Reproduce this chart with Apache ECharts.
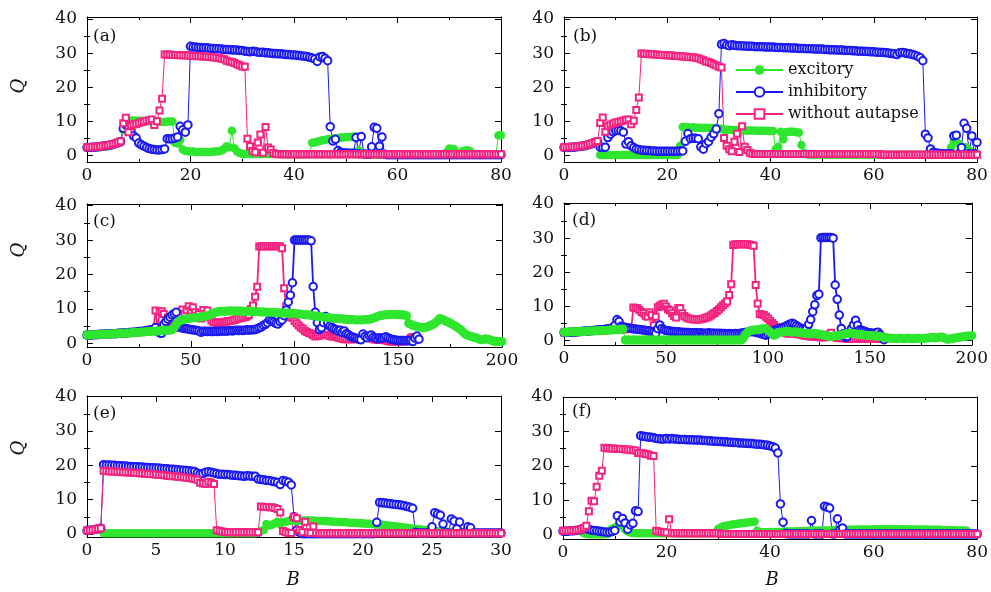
<!DOCTYPE html>
<html>
<head>
<meta charset="utf-8">
<script src="https://cdn.jsdelivr.net/npm/echarts@6.0.0/dist/echarts.min.js"></script>
<style>html,body{margin:0;padding:0;background:#fff}#c{width:991px;height:592px}</style>
</head>
<body>
<div id="c"></div>
<script>
// ---------- DATA (segments: [startB, [Q values at panel step]]) ----------
const seriesNames = ['excitory', 'inhibitory', 'without autapse'];
const panelLabels = ['(a)', '(b)', '(c)', '(d)', '(e)', '(f)'];
const yTickValues = [0, 10, 20, 30, 40];
const yMinorValues = [5, 15, 25, 35];

// panel (a), step 0.5
const aGreen = [
  [0, [2.3,2.3,2.3,2.4,2.4,2.5,2.6,2.7,2.8,3.0,3.2,3.4,3.7,4.0,
       7.5,9.5,10.3,10.3,10.3,10.2,10.2,10.2,10.1,10.1,
       10.1,10.0,10.0,10.0,9.9,9.9,9.9,10.0,10.0,10.0,
       3.8,3.6,4.6,1.8,1.4,1.3,1.2,1.2,1.1,1.1,
       1.1,1.1,1.1,1.1,1.1,1.2,1.2,1.3,1.5,2.0,
       2.8,2.5,7.3,2.2,1.2,0.8,0.6]],
  [30.5, [0.5,0.5,0.5,0.5,0.5,0.5,0.5,0.5,0.5,0.5,
          0.5,0.5,0.5,0.5,0.5,0.5,0.4,0.4,0.4,0.4,
          0.4,0.4,0.4,0.4,0.4,0.4]],
  [43.5, [3.8,3.9,4.1,4.3,4.5,4.6,4.8,4.9,5.0,5.1,5.2,5.3,5.3,5.4,5.5,5.5,5.6,5.6,1.5,0.5]],
  [53.5, [0.3,0.3,0.3,0.3,0.3,0.3,0.3,0.3,0.3,0.3,
          0.3,0.3,0.3,0.3,0.3,0.3,0.3,0.3,0.3,0.3,
          0.3,0.3,0.3,0.3,0.3,0.3,0.3,0.3,0.3,0.3,
          0.3,0.3]],
  [69.5, [1.0,2.1,2.0,1.8,0.8,0.6,1.2,1.5,1.6,1.4,0.6,0.3,0.3,0.3,0.3,0.3,0.3,0.3,0.3,0.3,5.9,6.0]]
];
const aBlue = [
  [0, [2.4,2.4,2.5,2.5,2.6,2.7,2.8,2.9,3.0,3.1,3.3,3.5,3.8,4.1,
       8.0,9.0,8.6,7.6,5.8,5.2,3.7,3.2,2.8,2.4,
       2.1,1.9,1.8,1.7,1.7,1.8,2.0,5.0,4.9,5.0,
       5.2,5.5,8.6,7.6,6.9,9.0]],
  [20, [32.0,31.8,31.8,31.7,31.7,31.6,31.6,31.5,31.4,31.4,
        31.3,31.3,31.2,31.1,31.1,31.0,31.0,30.9,30.9,30.8,
        30.8,30.6,30.5,30.4,30.6,30.5,30.3,30.2,30.3,30.1,
        30.1,30.0,29.9,29.9,29.8,29.8,29.7,29.6,29.6,29.5,
        29.5,29.4,29.3,29.2,29.1,29.0,28.8,28.6,28.3,27.6,
        28.9,29.0,28.5,27.8]],
  [47, [8.5,4.3,4.8,1.5,1.0,0.8,0.8,0.7,0.7,0.7,5.3,0.6,5.6,0.5,0.4,0.4,2.6,8.3,8.0,2.8,5.5,0.4]],
  [58, [0.3,0.3,0.3,0.3,0.3,0.3,0.3,0.3,0.3,0.3,
        0.3,0.3,0.3,0.3,0.3,0.3,0.3,0.3,0.3,0.3,
        0.3,0.3,0.3,0.3,0.3,0.3,0.3,0.3,0.3,0.3,
        0.3,0.3,0.3,0.3,0.3,0.3,0.3,0.3,0.3,0.3,
        0.3,0.3,0.3,0.3,0.3]]
];
const aPink = [
  [0, [2.5,2.5,2.5,2.6,2.6,2.7,2.8,2.9,3.0,3.2,3.4,3.6,3.9,4.2,
       9.5,11.1,6.9,8.7,9.1,9.3,9.6,9.8,10.0,10.2,10.4,10.6,9.0,10.1,13.2,16.7]],
  [15, [29.6,29.6,29.6,29.5,29.5,29.5,29.4,29.4,29.4,29.3,
        29.3,29.2,29.2,29.1,29.1,29.0,29.0,28.9,28.8,28.8,
        28.7,28.6,28.4,28.2,27.8,27.6,27.4,27.1,26.8,26.5,
        26.1,26.0]],
  [31, [5.0,2.8,1.4,1.0,3.9,6.2,0.9,8.4,2.4,1.8,0.8,0.5]],
  [37, [0.4,0.4,0.4,0.4,0.4,0.4,0.4,0.4,0.4,0.4,
        0.4,0.4,0.4,0.4,0.4,0.4,0.4,0.4,0.4,0.4,
        0.4,0.4,0.4,0.4,0.4,0.4,0.4,0.4,0.4,0.4,
        0.4,0.4,0.4,0.4,0.4,0.4,0.4,0.4,0.4,0.4,
        0.4,0.4,0.4,0.4,0.4,0.4,0.4,0.4,0.4,0.4,
        0.4,0.4,0.4,0.4,0.4,0.4,0.4,0.4,0.4,0.4,
        0.4,0.4,0.4,0.4,0.4,0.4,0.4,0.4,0.4,0.4,
        0.4,0.4,0.4,0.4,0.4,0.4,0.4,0.4,0.4,0.4,
        0.4,0.4,0.4,0.4,0.4,0.4,0.4]]
];

// panel (b), step 0.5
const bGreen = [
  [7, [0.2,0.2,0.2,0.2,0.2,0.2,0.2,0.2,0.2,0.2,
       0.2,0.2,0.2,0.2,0.2,0.2,0.2,0.2,0.2,0.2,
       0.2,0.2,0.2,0.2,0.2,0.2,0.2,0.2,0.2,0.2,0.2]],
  [22.5, [2.9,8.4,
          8.3,8.3,8.2,8.3,8.2,8.2,8.2,8.1,8.2,8.1,8.1,8.0,8.0,7.9,7.9,
          7.6,7.6,7.6,7.5,7.5,7.5,7.5,7.5,7.4,7.4,7.4,7.4,7.4,7.3,7.3,7.3,7.3,7.2,7.2,7.2,
          1.9,2.6,7.0,4.8,6.9,7.0,7.0,7.0,6.9,6.8,3.1,0.9,0.4]],
  [47.5, [0.3,0.3,0.3,0.3,0.3,0.3,0.3,0.3,0.3,0.3,
          0.3,0.3,0.3,0.3,0.3,0.3,0.3,0.3,0.3,0.3,
          0.3,0.3,0.3,0.3,0.3,0.3,0.3,0.3,0.3,0.3,
          0.3,0.3,0.3,0.3,0.3,0.3,0.3,0.3,0.3,0.3,
          0.3,0.3,0.3,0.3,0.3,0.3,0.3,0.3,0.3,0.3,
          0.3,0.3,0.3,0.3,0.3]],
  [75, [2.5,4.1,4.0,3.5,2.5,2.5,2.3,1.5,1.0,0.8,0.6]]
];
const bBlue = [
  [0, [2.4,2.4,2.4,2.5,2.5,2.6,2.7,2.8,2.9,3.1,3.3,3.5,3.8,4.1,
       2.5,2.4,2.5,5.3,6.3,7.0,7.3,7.4,7.3,6.9,
       3.4,4.1,2.9,2.4,2.0,1.8,1.6,1.6,1.5,1.5,
       1.4,1.4,1.3,1.3,1.3,1.3,1.3,1.3,1.3,1.3,
       1.3,1.4,1.4,4.2,6.5,5.0,5.1,5.1,5.0,2.6,
       1.9,3.5,4.1,5.4,6.4,7.8,12.3]],
  [30.5, [32.6,32.8,32.4,32.2,32.5,32.3,32.2,32.2,32.1,32.1,
          32.0,32.0,32.0,31.9,31.9,31.9,31.9,31.8,31.8,31.8,
          31.8,31.7,31.7,31.7,31.6,31.6,31.6,31.5,31.5,31.5,
          31.4,31.4,31.4,31.3,31.3,31.3,31.2,31.2,31.2,31.2,
          31.1,31.1,31.0,31.0,31.0,30.9,30.9,30.9,30.8,30.8,
          30.8,30.7,30.7,30.6,30.6,30.6,30.5,30.5,30.4,30.4,
          30.3,30.3,30.2,30.2,30.1,30.0,29.9,29.8,29.6,30.1,
          30.2,30.1,29.9,29.8,29.6,29.4,29.1,28.7,27.8]],
  [70, [6.3,5.2,2.0,1.0,0.8,0.7,0.6,0.6,0.6,0.6,0.6,5.8,6.0,0.6,2.4,9.5,8.0,0.6,5.8,0.6,3.9]]
];
const bPink = [
  [0, [2.5,2.5,2.5,2.6,2.6,2.7,2.8,2.9,3.0,3.2,3.4,3.7,4.0,4.3,
       9.6,11.2,7.0,8.6,9.1,9.4,9.7,9.9,10.1,10.3,10.5,10.6,9.2,10.2,13.4,17.0]],
  [15, [29.9,29.8,29.8,29.7,29.7,29.6,29.6,29.5,29.5,29.4,
        29.4,29.3,29.3,29.2,29.2,29.1,29.0,29.0,28.9,28.8,
        28.8,28.7,28.5,28.2,27.9,27.6,27.4,27.1,26.8,26.4,
        26.0,25.8]],
  [31, [5.2,2.9,1.9,1.3,4.1,6.4,1.1,8.6,2.6,1.7,0.9,0.6]],
  [37, [0.5,0.5,0.5,0.5,0.5,0.5,0.5,0.5,0.5,0.5,
        0.5,0.5,0.5,0.5,0.5,0.5,0.5,0.5,0.5,0.5,
        0.5,0.5,0.5,0.5,0.5,0.5,0.5,0.5,0.5,0.5,
        0.5,0.5,0.5,0.5,0.5,0.5,0.5,0.5,0.5,0.5,
        0.5,0.5,0.5,0.5,0.5,0.5,0.5,0.5,0.5]],
  [61.5, [0.3,0.3,0.3,0.3,0.3,0.3,0.3,0.3,0.3,0.3,
          0.3,0.3,0.3,0.3,0.3,0.3,0.3,0.3,0.3,0.3,
          0.3,0.3,0.3,0.3,0.3,0.3,0.3,0.3,0.3,0.3,
          0.3,0.3,0.3,0.3,0.3,0.3,0.3,0.3]]
];

// panel (c), step 1
const cGreen = [
  [0, [2.4,2.4,2.5,2.5,2.5,2.5,2.6,2.6,2.6,2.6,
       2.7,2.7,2.7,2.8,2.8,2.8,2.9,2.9,2.9,3.0,
       3.0,3.0,3.1,3.1,3.1,3.2,3.2,3.3,3.3,3.4,
       3.4,3.5,3.5,3.5,3.6,3.6,3.7,3.7,3.8,3.8,
       3.8,3.9,4.5,5.5,6.3,6.6,6.8,7.0,7.1,7.2,
       7.3,7.4,7.4,7.5,7.6,7.7,7.8,7.9,8.0,8.2,
       8.5,8.8,9.0,9.2,9.3,9.3,9.3,9.3,9.4,9.4,
       9.4,9.4,9.4,9.4,9.4,9.3,9.3,9.3,9.3,9.3,
       9.3,9.2,9.2,9.2,9.1,9.1,9.1,9.0,9.0,9.0,
       9.0,8.9,8.9,8.9,8.8,8.8,8.8,8.7,8.7,8.7,
       8.6,8.6,8.5,8.5,8.4,8.3,8.3,8.2,8.1,8.0,
       7.9,7.8,7.8,7.7,7.6,7.5,7.5,7.4,7.3,7.3,
       7.2,7.2,7.1,7.1,7.0,7.0,6.9,6.9,6.9,6.8,
       6.8,6.8,6.8,6.8,6.9,6.9,7.0,7.1,7.3,7.5,
       7.8,8.0,8.1,8.2,8.3,8.3,8.4,8.4,8.4,8.4,
       8.3,8.3,8.3,8.2,8.0,5.8,5.5,5.2,5.0,4.9,
       4.8,4.6,4.5,4.6,4.8,5.0,5.3,5.6,6.0,6.6,
       7.2,7.0,6.8,6.4,6.2,5.9,5.5,5.2,4.8,4.4,
       4.0,3.4,2.8,2.4,2.2,2.0,1.8,1.6,1.5,1.2,
       1.0,1.1,1.3,1.2,1.1,0.8,0.6,0.5,0.5,0.5,
       0.5]]
];
const cBlue = [
  [0, [2.4,2.4,2.4,2.5,2.5,2.5,2.6,2.6,2.6,2.7,
       2.7,2.7,2.8,2.8,2.8,2.9,2.9,3.0,3.0,3.0,
       3.1,3.1,3.2,3.2,3.3,3.4,3.4,3.5,3.6,3.7,
       3.8,3.9,4.0,4.6,3.5,3.0,2.9,5.5,6.3,7.0,
       7.6,8.2,8.6,9.0,5.0,4.6,4.4,4.3,4.2,4.1,
       4.0,3.9,3.8,3.7,3.6,3.2,3.5,3.5,3.4,3.5,
       3.4,3.4,3.5,3.4,3.5,3.5,3.6,3.5,3.6,3.7,
       3.6,3.7,3.8,3.7,3.8,3.7,3.8,3.9,3.8,3.9,
       3.9,4.0,4.2,4.5,4.7,5.2,5.5,6.0,6.8,6.5,
       6.2,5.8,5.6,6.3,6.8,8.0,9.7,12.0,14.0,17.6,
       30.0,30.0,30.0,30.0,30.0,30.0,30.0,30.0,29.8,16.5,
       9.0,6.0,4.0,4.5,6.0,7.8,6.0,5.0,4.6,4.2,
       4.0,3.6,3.8,3.2,3.6,2.8,2.5,2.0,1.8,1.6,
       1.4,1.2,1.0,2.7,2.0,1.6,2.2,2.4,1.8,1.5,
       1.3,1.6,1.4,1.6,1.9,1.6,1.3,1.1,1.0,0.9,
       0.8,0.8,0.8,0.8,0.8,0.8,0.8,0.5,1.5,2.1,
       1.2]]
];
const cPink = [
  [0, [2.4,2.4,2.4,2.5,2.5,2.5,2.6,2.6,2.6,2.7,
       2.7,2.7,2.8,2.8,2.8,2.9,2.9,3.0,3.0,3.0,
       3.1,3.1,3.2,3.2,3.3,3.3,3.4,3.5,3.5,3.6,
       3.7,3.8,3.9,9.5,4.2,9.2,9.3,8.5,6.0,7.5,
       5.5,5.0,4.8,4.5,4.5,5.2,9.8,8.6,9.6,10.8,
       9.5,10.5,9.0,8.0,8.5,7.2,9.7,8.5,9.5,7.6,
       6.6,6.2,6.0,6.0,6.1,6.0,6.2,6.3,6.4,6.5,
       6.6,6.8,7.0,7.2,7.3,7.5,7.6,7.8,8.2,10.0,
       11.0,13.5,16.4,28.1,28.2,28.2,28.2,28.2,28.2,28.2,
       28.2,28.2,28.2,28.2,27.6,16.0,10.7,7.8,7.6,7.4,
       6.5,5.8,5.2,4.6,4.2,3.6,3.3,3.0,2.8,2.3,
       2.0,2.1,2.2,2.4,2.5,2.4,2.3,2.1,2.0,1.9,
       1.8,1.6,1.5,1.3,1.2,1.2,1.2,1.2,1.2,1.2,
       1.3,1.4,1.5,1.5,1.5,1.5,1.5,1.5,1.2,1.1,
       1.0,1.0,1.0,1.0,0.8,0.7,0.5,0.5,0.5,0.5,
       0.5,0.5,0.5,0.5,0.6,0.8,1.5,1.8,1.0]]
];

// panel (d), step 1
const dGreen = [
  [0, [2.5,2.5,2.5,2.6,2.6,2.6,2.6,2.7,2.7,2.7,
       2.7,2.8,2.8,2.8,2.8,2.9,2.9,2.9,3.0,3.0,
       3.0,3.0,3.1,3.1,3.1,3.2,3.2,3.2,3.3,3.4]],
  [30, [0.2,0.2,0.2,0.2,0.2,0.2,0.2,0.2,0.2,0.2,
        0.2,0.2,0.2,0.2,0.2,0.2,0.2,0.2,0.2,0.2,
        0.2,0.2,0.2,0.2,0.2,0.2,0.2,0.2,0.2,0.2,
        0.2,0.2,0.2,0.2,0.2,0.2,0.2,0.2,0.2,0.2,
        0.2,0.2,0.2,0.2,0.2,0.2,0.2,0.2,0.2,0.2,
        0.2,0.2,0.2,0.2,0.2,0.2,0.2,0.2,
        0.8,1.8,
        2.5,2.8,3.0,3.1,3.2,3.2,3.3,3.5,3.6,3.5,
        3.0,2.6,2.0,1.6,1.8,2.4,2.5,2.5,2.6,2.7,
        2.7,2.6,2.5,2.6,2.6,2.4,2.3,2.3,2.2,2.1,
        2.0,2.1,2.2,2.2,2.0,1.9,1.8,1.7,1.5,1.4,
        1.3,1.2,1.3,1.4,1.5,1.6,1.7,1.8,2.0,2.1,
        2.2,2.2,2.1,2.0,1.9,1.8,1.8,1.7,1.6,1.5,
        1.5,1.5,1.4,1.4,1.3,1.2,1.1,1.0,0.9,0.8,
        0.7,0.7,0.7,0.6,0.7,0.7,0.6,0.6,0.7,0.7,
        0.6,0.6,0.6,0.7,0.7,0.6,0.6,0.7,0.8,0.8,
        0.9,1.0,0.8,0.9,1.0,1.1,1.0,0.6,0.4,0.5,
        0.6,0.7,0.8,0.9,1.0,1.1,1.2,1.3,1.4,1.4,
        1.5]]
];
const dBlue = [
  [0, [2.4,2.4,2.4,2.5,2.5,2.5,2.6,2.6,2.7,2.7,
       2.8,2.8,2.9,2.9,3.0,3.0,3.1,3.1,3.2,3.2,
       3.3,3.4,3.5,3.6,3.8,4.5,6.2,5.6,4.2,4.0,
       3.9,3.8,3.7,3.6,3.5,3.4,3.3,3.3,3.2,3.1,
       3.0,2.9,2.8,2.6,2.4,2.1,3.5,4.6,3.6,3.2,
       3.0,2.9,2.8,2.7,2.7,2.6,2.6,2.5,2.5,2.4,
       2.4,2.4,2.3,2.3,2.3,2.3,2.2,2.3,2.2,2.2,
       2.2,2.3,2.2,2.2,2.2,2.1,2.2,2.1,2.1,2.1,
       2.0,2.1,2.0,2.0,2.1,2.0,2.1,2.2,2.3,2.4,
       2.5,2.6,2.7,2.6,2.5,2.3,2.2,2.0,1.8,1.6,
       1.9,2.2,2.6,3.0,3.2,3.4,3.6,3.8,4.0,4.3,
       4.6,4.9,5.1,4.8,4.4,4.0,3.7,3.4,3.2,3.6,
       4.8,6.2,8.5,10.5,13.2,13.6,30.1,30.2,30.2,30.2,
       30.2,30.2,30.0,16.3,12.1,7.5,3.6,2.0,1.0,1.2,
       2.5,3.5,4.6,6.0,4.5,3.2,3.0,2.8,2.6,2.4,
       2.3,2.2,2.1,2.3,2.5,1.8,0.8,0.3]]
];
const dPink = [
  [0, [2.4,2.4,2.4,2.5,2.5,2.5,2.6,2.6,2.6,2.7,
       2.7,2.7,2.8,2.8,2.8,2.9,2.9,2.9,3.0,3.0,
       3.0,3.1,3.1,3.1,3.2,3.2,3.2,3.3,3.3,3.3,
       3.4,3.4,3.5,3.5,
       9.7,9.6,9.5,9.0,8.4,8.0,
       7.3,7.0,8.3,7.5,4.5,7.0,9.8,10.2,10.6,10.8,
       10.0,9.2,8.8,8.0,7.2,6.8,9.6,9.5,8.0,7.2,
       6.8,6.5,6.4,6.3,6.2,6.2,6.2,6.3,6.4,6.6,
       6.8,7.0,7.4,7.8,8.2,8.7,9.2,9.8,10.4,10.9,
       11.5,13.4,16.5,28.0,28.2,28.2,28.2,28.2,28.2,28.2,
       28.2,28.1,28.0,27.8,16.3,10.9,7.8,7.7,7.5,7.0,
       6.5,5.8,5.2,4.6,4.0,3.5,3.0,2.7,2.4,2.2,
       2.1,2.1,2.1,2.1,2.0,1.9,1.8,1.6,1.5,1.4,
       1.3,1.2,1.2,1.1,1.1,1.0,1.0,1.0,1.0,1.2,
       1.8,2.3,1.2,1.0,0.8,0.8,0.7,0.7,0.7,0.6,
       0.6,0.6,0.6,0.5,0.5,0.5,0.5,0.5,0.5,0.5,
       0.5,0.5,0.5,0.5,0.5,0.5]]
];

// panel (e), step 0.2
const eGreen = [
  [1.2, [0.2,0.2,0.2,0.2,0.2,0.2,0.2,0.2,0.2,0.2,
         0.2,0.2,0.2,0.2,0.2,0.2,0.2,0.2,0.2,0.2,
         0.2,0.2,0.2,0.2,0.2,0.2,0.2,0.2,0.2,0.2,
         0.2,0.2,0.2,0.2,0.2,0.2,0.2,0.2,0.2,0.2,
         0.2,0.2,0.2,0.2,0.2,0.2,0.2,0.2,0.2,0.2,
         0.2,0.2,0.2,0.2,0.2,0.2]],
  [12.4, [0.6,0.9,1.2,2.9,2.5,2.7,3.1,3.6,2.8,3.4,3.6,3.8,3.9,3.9]],
  [15.2, [3.9,3.9,3.9,3.9,3.9,3.9,3.9,3.8,3.8,3.8,
          3.8,3.7,3.7,3.6,3.6,3.5,3.5,3.4,3.4,3.3,
          3.3,3.2,3.2,3.1,3.1,3.0,3.0,2.9,2.9,2.8,
          2.7,2.7,2.6,2.5,2.4,2.3,2.2,2.1,2.0,1.9,
          1.8,1.7,1.6,1.5,1.4,1.3,1.2,1.1,1.0,1.0,
          0.9,0.8,0.8,0.7,0.7,0.6,0.6,0.5,0.5,0.5,
          0.4,0.4,0.4,0.4,0.3,0.3,0.3,0.3,0.3,0.3,
          0.3,0.3,0.3,0.3,0.3]]
];
const eBlue = [
  [0, [1.0,1.1,1.2,1.3,1.5,1.7]],
  [1.2, [20.2,20.1,20.1,20.0,20.0,19.9,19.9,19.8,19.8,19.7,
         19.7,19.6,19.6,19.5,19.5,19.4,19.4,19.3,19.3,19.2,
         19.2,19.1,19.0,19.0,18.9,18.9,18.8,18.7,18.6,18.6,
         18.5,18.4,18.3,18.2,17.8,17.5,17.6,18.0,18.1,18.0,
         17.8,17.6,17.4,17.4,17.3,17.3,17.2,17.1,17.1,17.0,
         16.9,16.8,17.0,16.9,16.8,16.8,16.0,15.9,15.8,15.6,
         15.6,15.4,15.2,15.0,14.4,15.6,15.4,15.1,14.3]],
  [15.0, [5.0,1.2,0.5,
          0.1,0.1,0.1,0.1,0.1,0.1,0.1,0.1,0.1,0.1,
          0.1,0.1,0.1,0.1,0.1,0.1,0.1,0.1,0.1,0.1,
          0.1,0.1,0.1,0.1,0.1,0.1,0.1,
          3.4,9.2,9.1,9.0,8.9,8.8,8.7,8.6,8.5,8.4,8.2,8.0,7.8,7.5,
          0.5,0.3,0.3,0.3,0.3,0.3,
          2.1,6.2,5.8,5.5,2.9,0.3,0.3,4.4,3.8,1.5,3.5,0.3,0.3,2.1,1.8,0.3,
          0.3,0.3,0.3,0.3,0.3,0.3,0.3,0.3,0.3,0.3]]
];
const ePink = [
  [0, [1.0,1.1,1.2,1.3,1.5,1.7]],
  [1.2, [18.4,18.3,18.3,18.2,18.2,18.1,18.1,18.0,18.0,17.9,
         17.9,17.8,17.8,17.7,17.6,17.6,17.5,17.5,17.4,17.3,
         17.2,17.2,17.1,17.0,16.9,16.8,16.8,16.7,16.6,16.5,
         16.4,16.3,16.2,16.0,15.8,14.9,14.7,14.6,15.2,14.9,
         14.6]],
  [9.4, [1.1,0.9,0.7,0.6,
         0.5,0.5,0.5,0.5,0.5,0.5,0.5,0.5,0.5,0.5,0.5,0.5,
         8.0,7.9,7.9,7.8,7.8,7.6,7.3,6.3,
         0.9,0.5,0.3,0.3,
         5.0,4.6,1.2,0.5,3.6,0.5,0.3,2.2,0.3]],
  [16.8, [0.2,0.2,0.2,0.2,0.2,0.2,0.2,0.2,0.2,0.2,
          0.2,0.2,0.2,0.2,0.2,0.2,0.2,0.2,0.2,0.2,
          0.2,0.2,0.2,0.2,0.2,0.2,0.2,0.2,0.2,0.2,
          0.2,0.2,0.2,0.2,0.2,0.2,0.2,0.2,0.2,0.2,
          0.2,0.2,0.2,0.2,0.2,0.2,0.2,0.2,0.2,0.2,
          0.2,0.2,0.2,0.2,0.2,0.2,0.2,0.2,0.2,0.2,
          0.2,0.2,0.2,0.2,0.2,0.2,0.2]]
];

// panel (f), step 0.5
const fGreen = [
  [4, [0.5,0.3,0.2,0.2,0.2,0.2,0.2,0.2,0.2,0.2,
       1.2,1.8,2.2,2.5,2.8,3.1,1.6,1.0,0.7,0.6]],
  [14, [0.5,0.5,0.5,0.5,0.5,0.5,0.5,0.5,0.5,0.5,
        0.5,0.5,0.5,0.5,0.5,0.5,0.5,0.5,0.5,0.5,
        0.5,0.5,0.5,0.5,0.5,0.5,0.5,0.5,0.5,0.5,0.5]],
  [29.5, [0.9,1.8,2.2,2.5,2.7,2.8,3.0,3.1,3.2,3.3,3.4,3.5,3.6,3.7,3.8,3.9,1.2]],
  [38, [0.8,0.8,0.8,0.8,0.9,0.9,0.9,0.9,0.9,1.0,
        1.0,1.0,1.0,1.0,1.1,1.1,1.1,1.1,1.1,1.2,
        1.2,1.2,1.2,1.3,1.3,1.3,1.3,1.3,1.4,1.4,
        1.4,1.4,1.5,1.5,1.5,1.5,1.5,1.5,1.6,1.6,
        1.6,1.6,1.6,1.6,1.7,1.7,1.7,1.7,1.7,1.7,
        1.7,1.7,1.7,1.7,1.7,1.7,1.7,1.6,1.6,1.6,
        1.6,1.6,1.6,1.6,1.6,1.5,1.5,1.5,1.5,1.5,
        1.5,1.4,1.4,1.4,1.4,1.4,1.3,1.3,1.3,1.3,
        1.2]]
];
const fBlue = [
  [0, [1.1,1.1,1.1,1.2,1.2,1.3,1.4,1.6,1.8,2.2,
       1.6,1.4,1.3,1.2,1.1,1.0,0.9,0.8,0.8,1.0,
       1.3,5.6,3.8,4.8,3.5,1.7,2.9,3.4,7.0,6.8]],
  [15, [28.8,28.6,28.5,28.4,28.3,28.2,28.0,27.9,27.8,27.8,
        28.0,27.8,28.0,27.8,27.8,27.7,27.7,27.7,27.6,27.6,
        27.6,27.5,27.5,27.5,27.4,27.4,27.3,27.3,27.2,27.2,
        27.1,27.1,27.0,27.0,26.9,26.9,26.8,26.8,26.7,26.7,
        26.6,26.6,26.5,26.5,26.4,26.3,26.3,26.2,26.1,26.0,
        25.8,25.6,25.2,23.8]],
  [42, [9.0,3.7,0.4,
        0.3,0.3,0.3,0.3,0.3,0.3,0.3,0.3,0.3,
        4.2,0.3,0.3,0.3,0.3,8.3,8.1,7.8,0.3,0.3,4.7,1.5,2.0,0.3]],
  [55, [0.3,0.3,0.3,0.3,0.3,0.3,0.3,0.3,0.3,0.3,
        0.3,0.3,0.3,0.3,0.3,0.3,0.3,0.3,0.3,0.3,
        0.3,0.3,0.3,0.3,0.3,0.3,0.3,0.3,0.3,0.3,
        0.3,0.3,0.3,0.3,0.3,0.3,0.3,0.3,0.3,0.3,
        0.3,0.3,0.3,0.3,0.3,0.3,0.3,0.3,0.3,0.3,0.3]]
];
const fPink = [
  [0, [1.2,1.2,1.2,1.3,1.3,1.4,1.5,1.7,2.0,2.7,
       6.9,9.9,9.8,14.0,17.2,18.6,
       25.3,25.2,25.1,25.1,25.0,25.0,24.9,24.9,24.8,24.8,24.7,24.6,24.5,
       23.8,23.8,23.7,23.5,23.3,23.0,22.9,
       1.2,1.0,0.9,0.8,0.7,4.6,0.6,0.5]],
  [22, [0.5,0.5,0.5,0.5,0.5,0.5,0.5,0.5,0.5,0.5,
        0.5,0.5,0.5,0.5,0.5,0.5,0.5]],
  [30.5, [0.3,0.3,0.3,0.3,0.3,0.3,0.3,0.3,0.3,0.3,
          0.3,0.3,0.3,0.3,0.3,0.3,0.3,0.3,0.3,0.3,
          0.3,0.3,0.3,0.3,0.3,0.3,0.3,0.3,0.3,0.3,
          0.3,0.3,0.3,0.3,0.3,0.3,0.3,0.3,0.3,0.3,
          0.3,0.3,0.3,0.3,0.3,0.3,0.3,0.3,0.3,0.3,
          0.3,0.3,0.3,0.3,0.3,0.3,0.3,0.3,0.3,0.3,
          0.3,0.3,0.3,0.3,0.3,0.3,0.3,0.3,0.3,0.3,
          0.3,0.3,0.3,0.3,0.3,0.3,0.3,0.3,0.3,0.3,
          0.3,0.3,0.3,0.3,0.3,0.3,0.3,0.3,0.3,0.3,
          0.3,0.3,0.3,0.3,0.3,0.3,0.3,0.3,0.3,0.3]]
];

// ---------- LAYOUT / STYLE ----------
const FONT = 'DejaVu Serif';
const GREEN = '#2ee62e', BLUE = '#1a1af0', PINK = '#f5237f';

const panels = [
  {left: 87,  top: 17,  width: 414, height: 145, xmax: 80,  xint: 20, ymin: -1.84, ymax: 40.59, step: 0.5, lw: 1,   gs: 8.5, order: [['g', aGreen], ['b', aBlue], ['p', aPink]]},
  {left: 564, top: 17,  width: 413, height: 145, xmax: 80,  xint: 20, ymin: -1.84, ymax: 40.59, step: 0.5, lw: 1,   gs: 8.5, order: [['g', bGreen], ['b', bBlue], ['p', bPink]]},
  {left: 87,  top: 204, width: 415, height: 143, xmax: 200, xint: 50, ymin: -1.08, ymax: 40.49, step: 1,   lw: 1.8, gs: 9,   order: [['p', cPink], ['b', cBlue], ['g', cGreen]]},
  {left: 564, top: 203, width: 413, height: 142, xmax: 200, xint: 50, ymin: -1.26, ymax: 40.29, step: 1,   lw: 1.8, gs: 9,   order: [['p', dPink], ['b', dBlue], ['g', dGreen]]},
  {left: 87,  top: 396, width: 414, height: 141, xmax: 30,  xint: 5,  ymin: -0.87, ymax: 40.2,  step: 0.2, lw: 1,   gs: 8.5, order: [['g', eGreen], ['b', eBlue], ['p', ePink]]},
  {left: 563, top: 397, width: 417, height: 142, xmax: 80,  xint: 20, ymin: -1.16, ymax: 40.0,  step: 0.5, lw: 1,   gs: 8.5, order: [['g', fGreen], ['b', fBlue], ['p', fPink]]}
];

function expand(segs, step) {
  const out = [];
  segs.forEach(([x0, ys]) => ys.forEach((y, i) => out.push([+(x0 + i * step).toFixed(3), y])));
  return out;
}

const grids = [], xAxes = [], yAxes = [], series = [];
const tickStyle = {color: '#000', width: 1};
panels.forEach((p, gi) => {
  grids.push({left: p.left, top: p.top, width: p.width, height: p.height, show: false});
  ['bottom', 'top'].forEach(pos => xAxes.push({
    gridIndex: gi, type: 'value', min: 0, max: p.xmax, interval: p.xint, position: pos,
    axisLine: {show: true, onZero: false, lineStyle: tickStyle},
    axisTick: {show: true, inside: true, length: 6, lineStyle: tickStyle},
    minorTick: {show: true, splitNumber: 2, length: 3, lineStyle: tickStyle},
    axisLabel: {show: pos === 'bottom', margin: 5, fontFamily: FONT, fontSize: 17, color: '#111'},
    splitLine: {show: false}, minorSplitLine: {show: false}
  }));
  ['left', 'right'].forEach(pos => {
    yAxes.push({
      gridIndex: gi, type: 'value', min: p.ymin, max: p.ymax, position: pos,
      axisLine: {show: true, onZero: false, lineStyle: tickStyle},
      axisTick: {show: true, inside: true, length: 6, lineStyle: tickStyle, customValues: yTickValues},
      axisLabel: {show: pos === 'left', customValues: yTickValues, margin: 10, fontFamily: FONT, fontSize: 17, color: '#111'},
      splitLine: {show: false}
    });
    yAxes.push({
      gridIndex: gi, type: 'value', min: p.ymin, max: p.ymax, position: pos,
      axisLine: {show: false},
      axisTick: {show: true, inside: true, length: 3, lineStyle: tickStyle, customValues: yMinorValues},
      axisLabel: {show: false},
      splitLine: {show: false}
    });
  });
  p.order.forEach(([k, segs]) => {
    const s = {
      type: 'line', xAxisIndex: gi * 2, yAxisIndex: gi * 4, data: expand(segs, p.step),
      animation: false, clip: true, emphasis: {disabled: true}
    };
    if (k === 'g') Object.assign(s, {name: seriesNames[0], symbol: 'circle', symbolSize: p.gs,
      itemStyle: {color: GREEN}, lineStyle: {color: GREEN, width: 1}});
    if (k === 'b') Object.assign(s, {name: seriesNames[1], symbol: 'emptyCircle', symbolSize: 7.5,
      itemStyle: {color: BLUE, borderWidth: 1}, lineStyle: {color: BLUE, width: p.lw}});
    if (k === 'p') Object.assign(s, {name: seriesNames[2], symbol: 'emptyRect', symbolSize: 6,
      itemStyle: {color: PINK, borderWidth: 1.1}, lineStyle: {color: PINK, width: p.lw}});
    series.push(s);
  });
});

const labelPos = [[93, 37], [573, 37], [93, 222], [572, 221], [93, 414], [572, 412]];
const graphic = [];
panelLabels.forEach((t, i) => graphic.push({type: 'text', x: labelPos[i][0], y: labelPos[i][1],
  style: {text: t, font: '17px "' + FONT + '"', fill: '#111', textAlign: 'left', textVerticalAlign: 'middle', verticalAlign: 'middle'}}));
[[19, 86], [19, 250], [19, 448]].forEach(([x, y]) => graphic.push({type: 'text', x, y, rotation: Math.PI / 2,
  style: {text: 'Q', font: 'italic 18px "' + FONT + '"', fill: '#111', textAlign: 'center', textVerticalAlign: 'middle', verticalAlign: 'middle'}}));
[[293, 580], [772, 580]].forEach(([x, y]) => graphic.push({type: 'text', x, y,
  style: {text: 'B', font: 'italic 18px "' + FONT + '"', fill: '#111', textAlign: 'center', textVerticalAlign: 'middle', verticalAlign: 'middle'}}));

const chart = echarts.init(document.getElementById('c'), null, {renderer: 'canvas'});
chart.setOption({
  backgroundColor: '#fff',
  animation: false,
  grid: grids, xAxis: xAxes, yAxis: yAxes, series,
  legend: {
    data: seriesNames, orient: 'vertical', left: 730, top: 57,
    itemWidth: 47, itemHeight: 12, itemGap: 6, selectedMode: false,
    textStyle: {fontFamily: FONT, fontSize: 16, color: '#111'}
  },
  graphic
});
</script>
</body>
</html>
